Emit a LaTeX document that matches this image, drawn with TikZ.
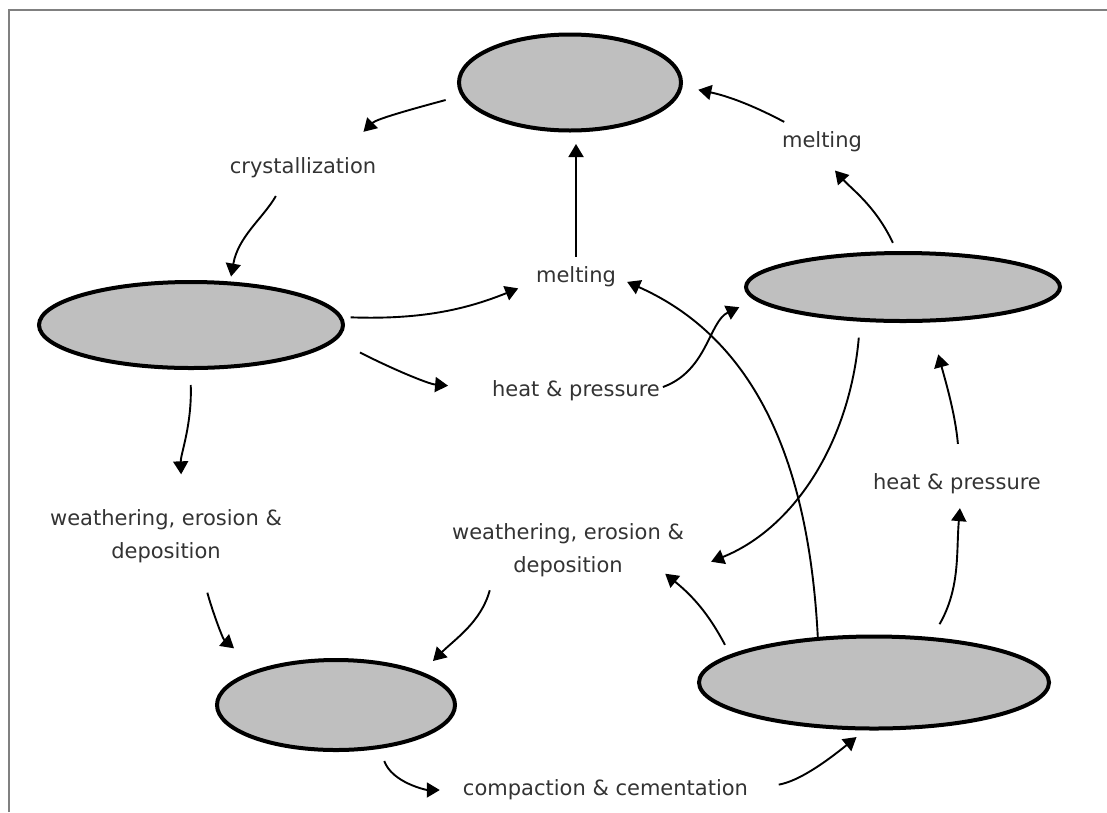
\documentclass[tikz,border=0pt]{standalone}
\usepackage{fontspec}
\setmainfont{DejaVu Sans}
\usetikzlibrary{arrows.meta,shapes.geometric}

\begin{document}
\begin{tikzpicture}[x=1pt,y=1pt,
    rock/.style={ellipse,draw=black,line width=4pt,fill=gray!50,inner sep=0pt},
    txt/.style={font=\fontsize{21}{33}\selectfont,text=black!80,inner sep=0pt,align=center},
    lbl/.style={txt,text height=16pt,text depth=5pt},
    lbltwo/.style={txt,minimum height=54pt},
    arr/.style={-{Triangle[length=13pt,width=15pt]},line width=1.9pt}]

    \useasboundingbox (0,0) rectangle (1107,-812);
    \draw[line width=2pt,gray] (9,-812) -- (9,-10) -- (1107,-10);

    % the five rocks
    \node[rock,minimum width=222pt,minimum height=96pt] (magma) at (570,-82.5) {};
    \node[rock,minimum width=304pt,minimum height=86pt] (igneous) at (191,-325) {};
    \node[rock,minimum width=314pt,minimum height=68pt] (meta) at (903,-287) {};
    \node[rock,minimum width=238pt,minimum height=90pt] (sediment) at (336,-705) {};
    \node[rock,minimum width=350pt,minimum height=92pt] (sedrock) at (874,-682.5) {};

    \node[lbl,minimum width=156pt] (cryst) at (303,-168) {crystallization};
    \node[lbl,minimum width=75pt] (meltT) at (822,-142) {melting};
    \node[lbl,minimum width=77pt] (meltM) at (576,-277) {melting};
    \node[lbl,minimum width=164pt] (heatM) at (576,-391) {heat \& pressure};
    \node[lbl,minimum width=146pt] (heatR) at (957,-484) {heat \& pressure};
    \node[lbltwo,minimum width=208pt] (weathL) at (166,-536.5) {weathering, erosion \&\\deposition};
    \node[lbltwo,minimum width=232pt] (weathM) at (568,-550) {weathering, erosion \&\\deposition};
    \node[lbl,minimum width=275pt] (compact) at (605.5,-790) {compaction \& cementation};

\draw[arr,shorten <=16pt,shorten >=36pt] (magma.187) to[out=195,in=45] (cryst.17);
\draw[arr,shorten <=20pt,shorten >=5pt] (cryst.212) to[out=240,in=80] (igneous.48);
\draw[arr,shorten <=8pt,shorten >=19pt] (igneous.3) to[out=-2,in=202] (meltM.186);
\draw[arr,shorten <=27pt,shorten >=44pt] (igneous.-6) to[out=-27,in=175] (heatM.179);
\draw[arr,shorten <=15pt,shorten >=35pt] (igneous.-91) to[out=-88,in=92] (weathL.59);
\draw[arr,shorten <=9.5pt,shorten >=11.5pt] (meltM.north) -- (meltM.north |- magma.south);
\draw[arr,shorten <=9pt,shorten >=24pt] (meta.100) to[out=115,in=-48] (meltT.254);
\draw[arr,shorten <=20pt,shorten >=16pt] (meltT.152) to[out=152,in=-12] (magma.-2);
\draw[arr,shorten <=3pt,shorten >=17pt] (heatM.2) to[out=20,in=205] (meta.185);
\draw[arr,shorten <=16pt,shorten >=29pt] (meta.219) to[out=-95,in=22] (weathM.-11);
\draw[arr,shorten >=12pt] (sedrock.141) to[out=93,in=-24] (meltM.east);
\draw[arr,shorten <=11pt] (sedrock.169) to[out=118,in=-39] ([xshift=-19pt,yshift=3.5pt]weathM.south east);
\draw[arr,shorten <=15pt,shorten >=13.5pt] (sedrock.38) to[out=60,in=-95] (heatR.-69);
\draw[arr,shorten <=29.5pt,shorten >=33pt] (heatR.72) to[out=95,in=-75] (meta.-53);
\draw[arr,shorten <=30pt,shorten >=32pt] (weathL.-39) to[out=-75,in=140] (sediment.155);
\draw[arr,shorten <=13.5pt,shorten >=15.5pt] (weathM.200) to[out=-105,in=45] (sediment.21);
\draw[arr,shorten <=13pt,shorten >=23pt] (sediment.-45) to[out=-70,in=180] (compact.west);
\draw[arr,shorten <=31pt,shorten >=10.5pt] (compact.east) to[out=10,in=219] (sedrock.-101);
\end{tikzpicture}
\end{document}
